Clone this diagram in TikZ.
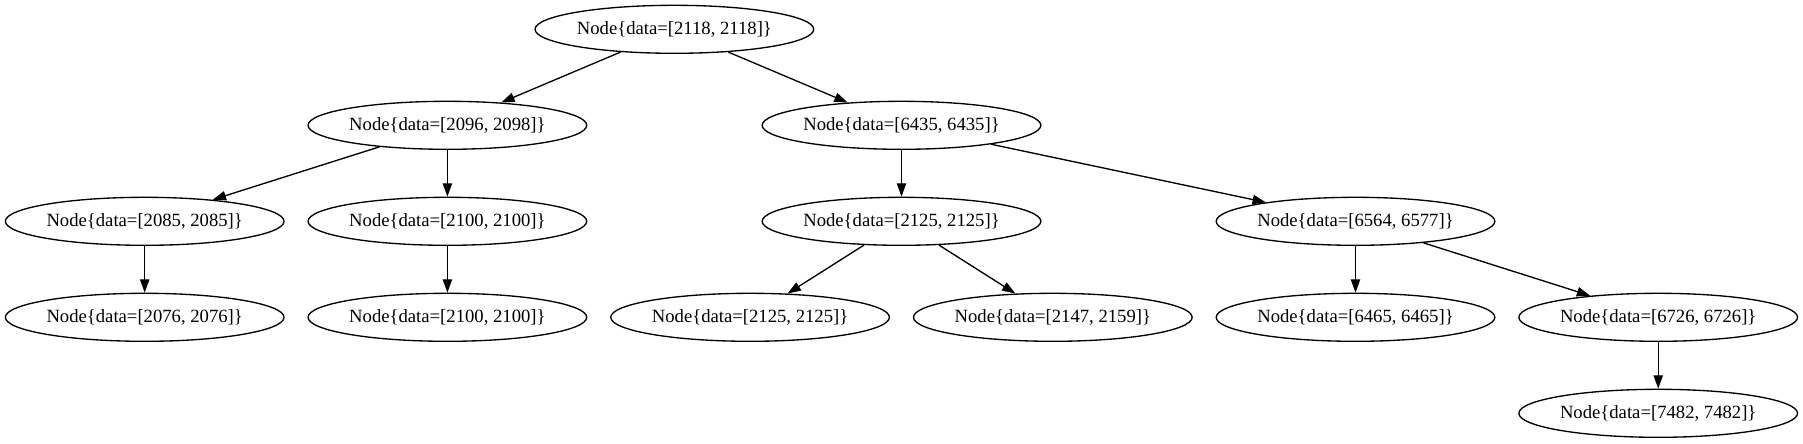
\documentclass[tikz,border=0pt]{standalone}
\usepackage{fontspec}
\setmainfont{Liberation Serif}
\usetikzlibrary{shapes.geometric,arrows.meta}
\begin{document}
\begin{tikzpicture}[x=0.75pt,y=-0.75pt,
    vertex/.style={draw,ellipse,line width=1pt,inner sep=0pt,
      minimum width=209pt,minimum height=36pt,
      font=\fontsize{14pt}{16pt}\selectfont}]
      \useasboundingbox (0,0) rectangle (1803,443);
      \draw
        (674.4,29.3) node[vertex] (0){Node\{data=[2118, 2118]\}}
        (447.4,125.3) node[vertex] (1){Node\{data=[2096, 2098]\}}
        (901.5,125.3) node[vertex] (2){Node\{data=[6435, 6435]\}}
        (144.7,221.3) node[vertex] (3){Node\{data=[2085, 2085]\}}
        (447.4,221.3) node[vertex] (4){Node\{data=[2100, 2100]\}}
        (901.5,221.3) node[vertex] (5){Node\{data=[2125, 2125]\}}
        (1355.5,221.3) node[vertex] (6){Node\{data=[6564, 6577]\}}
        (144.7,317.3) node[vertex] (7){Node\{data=[2076, 2076]\}}
        (447.4,317.3) node[vertex] (8){Node\{data=[2100, 2100]\}}
        (750.1,317.3) node[vertex] (9){Node\{data=[2125, 2125]\}}
        (1052.8,317.3) node[vertex] (10){Node\{data=[2147, 2159]\}}
        (1355.5,317.3) node[vertex] (11){Node\{data=[6465, 6465]\}}
        (1658.2,317.3) node[vertex] (12){Node\{data=[6726, 6726]\}}
        (1658.2,413.3) node[vertex] (13){Node\{data=[7482, 7482]\}};
      \begin{scope}[-{Triangle[length=10pt,width=7pt]},line width=1pt]
        \draw (0) to (1);
        \draw (0) to (2);
        \draw (1) to (3);
        \draw (1) to (4);
        \draw (2) to (5);
        \draw (2) to (6);
        \draw (3) to (7);
        \draw (4) to (8);
        \draw (5) to (9);
        \draw (5) to (10);
        \draw (6) to (11);
        \draw (6) to (12);
        \draw (12) to (13);
      \end{scope}
    \end{tikzpicture}
\end{document}
